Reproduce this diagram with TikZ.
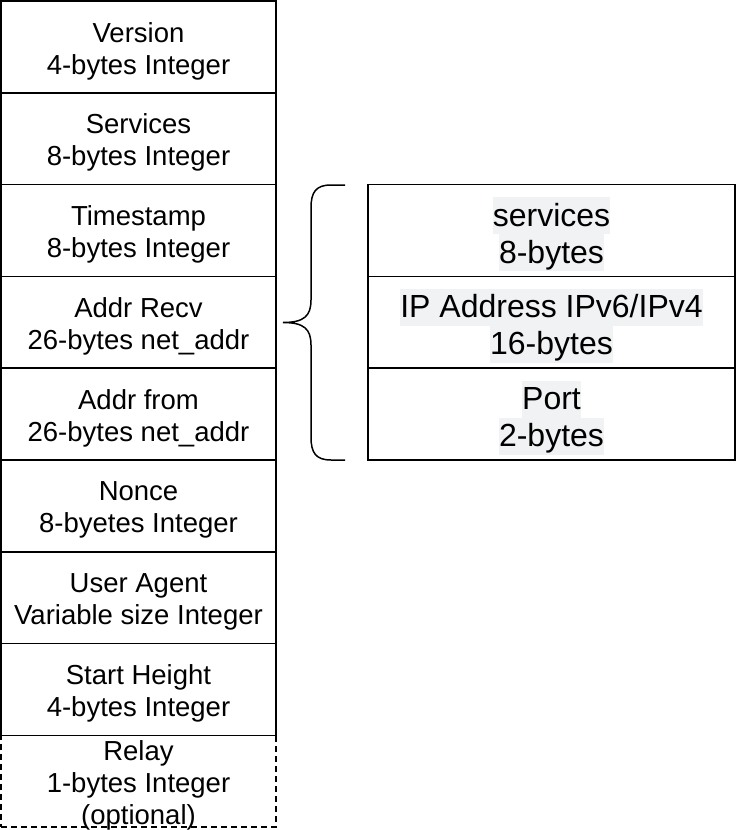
\documentclass[tikz,border=0pt]{standalone}
\usepackage{fontspec}
\setmainfont{Liberation Sans}
\usetikzlibrary{positioning}
\definecolor{hlgray}{RGB}{241,242,244}
\newcommand{\hlline}[1]{{\setlength{\fboxsep}{0pt}\colorbox{hlgray}{\rule[-8pt]{0pt}{37pt}#1}}}
\tikzset{
  field/.style={draw, line width=1.5pt, minimum width=275pt, minimum height=91.8pt, inner sep=0pt},
  fieldtext/.style={inner sep=0pt, align=center, yshift=-4pt,
    font=\fontsize{27.5pt}{32pt}\selectfont},
  subfield/.style={draw, line width=1.5pt, minimum width=367pt, minimum height=91.8pt, inner sep=0pt},
  subtext/.style={inner sep=0pt, align=center, yshift=-3.5pt,
    font=\fontsize{32pt}{37pt}\selectfont}
}
\begin{document}
\begin{tikzpicture}[x=1pt,y=-1pt]
\useasboundingbox (0,0) rectangle (736,830);

% message fields
\foreach \i/\txt in {0/{Version\\4-bytes Integer},
                     1/{Services\\8-bytes Integer},
                     2/{Timestamp\\8-bytes Integer},
                     3/{Addr Recv\\26-bytes net\_addr},
                     4/{Addr from\\26-bytes net\_addr},
                     5/{Nonce\\8-byetes Integer},
                     6/{User Agent\\Variable size Integer},
                     7/{Start Height\\4-bytes Integer}}
	\node[field, label={[fieldtext]center:{\txt}}] (f\i) at (138.5,{46.9+91.8*\i}) {};
\node[field, dash pattern=on 6pt off 4pt,
  label={[fieldtext]center:{Relay\\1-bytes Integer\\(optional)}}] (f8) at (138.5,{46.9+91.8*8}) {};

% net_addr
\node[subfield, label={[subtext]center:{\hlline{services}\\\hlline{8-bytes}}}]
  (services) at (551.5,{46.9+91.8*2}) {};
\node[subfield, label={[subtext]center:{\hlline{IP Address IPv6/IPv4}\\\hlline{16-bytes}}}]
  (ipaddr) at (551.5,{46.9+91.8*3}) {};
\node[subfield, label={[subtext]center:{\hlline{Port}\\\hlline{2-bytes}}}]
  (port) at (551.5,{46.9+91.8*4}) {};

% brace
\coordinate (bracetip) at (283,322.5);
\draw[line width=1.5pt]
  (345,185) -- (331,185) .. controls (316,185) and (311,192) .. (311,208)
  -- (311,300) .. controls (311,316) and (304,322.5) .. (bracetip)
  (345,460) -- (331,460) .. controls (316,460) and (311,453) .. (311,437)
  -- (311,345) .. controls (311,329) and (304,322.5) .. (bracetip);

\end{tikzpicture}
\end{document}
